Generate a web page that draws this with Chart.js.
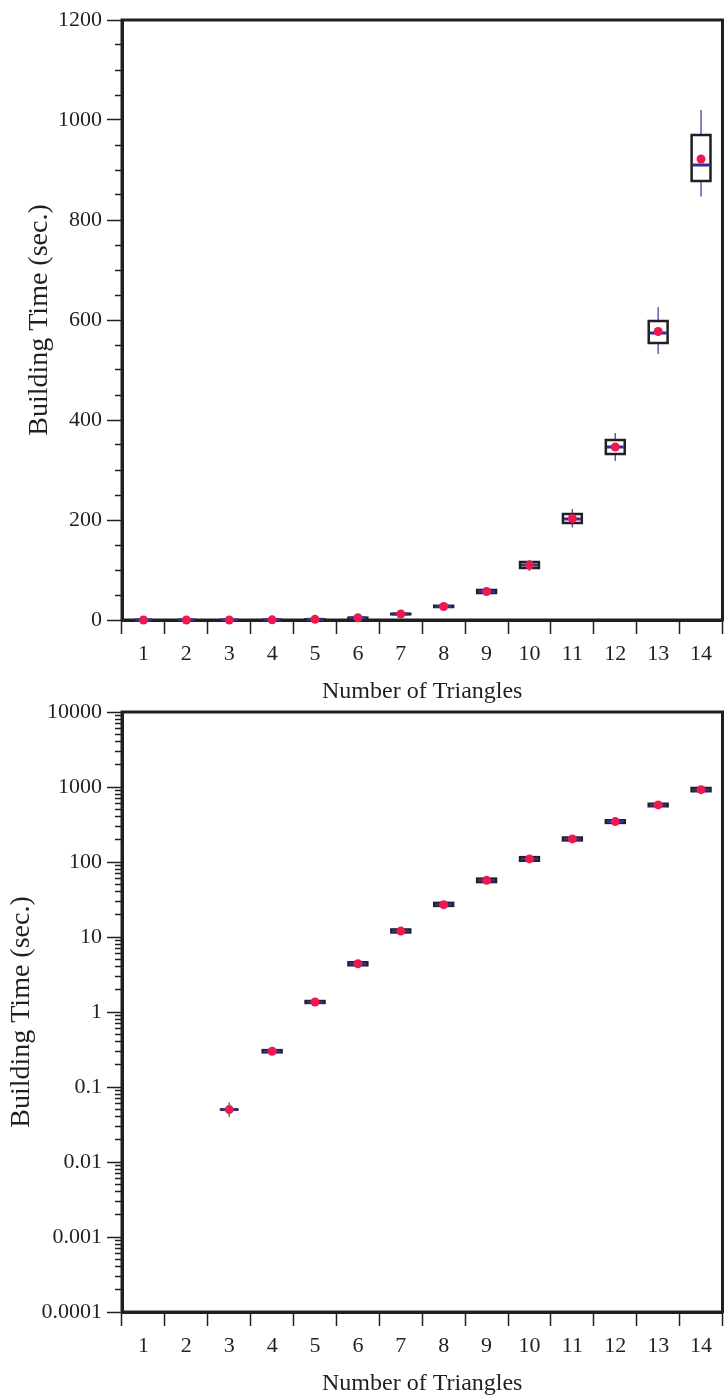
<!DOCTYPE html>
<html>
<head>
<meta charset="utf-8">
<script src="https://cdn.jsdelivr.net/npm/chart.js@4/dist/chart.umd.min.js"></script>
<style>
  body { margin: 0; background: #fff; }
  .panel { position: relative; width: 727px; }
</style>
</head>
<body>
<div class="panel" style="height:703px"><canvas id="linear-canvas"></canvas></div>
<div class="panel" style="height:692px"><canvas id="log-canvas"></canvas></div>
<script>
const categories = ['1', '2', '3', '4', '5', '6', '7', '8', '9', '10', '11', '12', '13', '14'];

// building time in seconds, one entry per triangle count
const meanTime      = [0, 0, 0.05, 0.30, 1.36, 4.4, 12, 27, 57, 110, 203, 346, 577, 922];
const medianTime    = [0, 0, 0.05, 0.30, 1.35, 4.4, 12, 27, 57, 110, 202, 346, 574, 910];
const lowerQuartile = [0, 0, 0.05, 0.29, 1.32, 4.2, 11.5, 26, 54, 104, 194, 332, 554, 878];
const upperQuartile = [0, 0, 0.05, 0.31, 1.40, 4.6, 12.6, 28.5, 60, 116, 212, 360, 598, 970];
const whiskerLow    = [0, 0, 0.04, 0.28, 1.28, 4.0, 11, 25, 52, 98, 185, 318, 532, 847];
const whiskerHigh   = [0, 0, 0.062, 0.32, 1.45, 4.8, 13, 29.5, 62, 120, 222, 374, 626, 1020];

const linearMajorTicks = [0, 200, 400, 600, 800, 1000, 1200];
const linearMinorStep = 50;
const logMajorTicks = [0.0001, 0.001, 0.01, 0.1, 1, 10, 100, 1000, 10000];

const INK = '#231f20';
const BLUE = '#2e3192';
const WHISKER = '#5a5eab';
const RED = '#ee1a4f';
const FONT = 'Liberation Serif';

const boxFraction = 0.44;

// whiskers, boxes and medians drawn under the mean dots
const boxPlotPlugin = {
  id: 'boxPlot',
  beforeDatasetsDraw(chart) {
    const { ctx, chartArea, scales: { x, y } } = chart;
    const isLog = y.type === 'logarithmic';
    const half = (chartArea.right - chartArea.left) / categories.length * boxFraction / 2;
    ctx.save();
    ctx.strokeStyle = INK;
    ctx.lineWidth = 3;
    ctx.strokeRect(chartArea.left, chartArea.top, chartArea.right - chartArea.left, chartArea.bottom - chartArea.top);

    categories.forEach((c, i) => {
      if (isLog && medianTime[i] <= 0) return;
      const cx = x.getPixelForValue(i);
      const yMin = y.getPixelForValue(whiskerLow[i]);
      const yMax = y.getPixelForValue(whiskerHigh[i]);
      const yQ1 = y.getPixelForValue(lowerQuartile[i]);
      const yQ3 = y.getPixelForValue(upperQuartile[i]);
      const yMed = y.getPixelForValue(medianTime[i]);

      ctx.strokeStyle = WHISKER;
      ctx.lineWidth = 1.5;
      ctx.beginPath();
      ctx.moveTo(cx, yMin);
      ctx.lineTo(cx, yMax);
      ctx.stroke();

      ctx.fillStyle = '#fff';
      ctx.fillRect(cx - half, yQ3, half * 2, yQ1 - yQ3);
      ctx.strokeStyle = INK;
      ctx.lineWidth = 2.5;
      ctx.strokeRect(cx - half, yQ3, half * 2, yQ1 - yQ3);

      ctx.strokeStyle = BLUE;
      ctx.lineWidth = 3;
      ctx.beginPath();
      ctx.moveTo(cx - half + 1, yMed);
      ctx.lineTo(cx + half - 1, yMed);
      ctx.stroke();
    });
    ctx.restore();
  }
};

function makeChart(canvasId, yScale, opts) {
  return new Chart(document.getElementById(canvasId), {
    type: 'line',
    data: {
      labels: categories,
      datasets: [{
        label: 'Mean',
        data: opts.means,
        showLine: false,
        pointRadius: 4.5,
        pointHoverRadius: 4.5,
        pointBackgroundColor: RED,
        pointBorderWidth: 0,
        clip: false
      }]
    },
    options: {
      responsive: true,
      maintainAspectRatio: false,
      devicePixelRatio: 1,
      animation: false,
      layout: { padding: { top: opts.top, right: 4, left: 0, bottom: 0 } },
      plugins: { legend: { display: false }, tooltip: { enabled: false } },
      scales: {
        x: {
          type: 'category',
          offset: true,
          afterFit: (scale) => {
            scale.height = 83;
            scale.paddingLeft = 0;
            scale.paddingRight = 0;
          },
          grid: {
            offset: true,
            drawOnChartArea: false,
            tickLength: 14,
            tickColor: INK,
            tickWidth: 1.5
          },
          border: { color: INK, width: 3 },
          ticks: {
            color: INK,
            maxRotation: 0,
            autoSkip: false,
            padding: 7,
            font: { family: FONT, size: 22 }
          },
          title: {
            display: true,
            text: 'Number of Triangles',
            color: INK,
            font: { family: FONT, size: 24, lineHeight: 0.9 },
            padding: { top: 0, bottom: 0 }
          }
        },
        y: Object.assign({
          afterFit: (scale) => {
            scale.width = 122;
            // end labels may overhang the plot edges
            scale.paddingTop = 0;
            scale.paddingBottom = 0;
          },
          grid: {
            drawOnChartArea: false,
            tickLength: 15,
            tickColor: INK,
            tickWidth: 1.5,
            // minor ticks only show their inner half
            tickBorderDash: (ctx) => (ctx.tick && ctx.tick.major) ? [] : [0, 8, 7, 100]
          },
          border: { color: INK, width: 3 },
          title: {
            display: true,
            text: 'Building Time (sec.)',
            color: INK,
            font: { family: FONT, size: 28, lineHeight: 1.2 },
            padding: { top: opts.yTitlePad, bottom: 0 }
          }
        }, yScale)
      }
    },
    plugins: [boxPlotPlugin]
  });
}

const tickFont = { family: FONT, size: 22 };

makeChart('linear-canvas', {
  type: 'linear',
  min: 0,
  max: 1200,
  afterBuildTicks: (scale) => {
    const ticks = [];
    for (let v = 0; v <= 1200; v += linearMinorStep) {
      ticks.push({ value: v, major: linearMajorTicks.includes(v) });
    }
    scale.ticks = ticks;
  },
  ticks: {
    color: INK,
    autoSkip: false,
    padding: 5,
    font: tickFont,
    callback: (value, index, ticks) => ticks[index].major ? String(value) : ''
  }
}, { means: meanTime, top: 20, yTitlePad: 23 });

makeChart('log-canvas', {
  type: 'logarithmic',
  min: 0.0001,
  max: 10000,
  afterBuildTicks: (scale) => {
    const ticks = [];
    logMajorTicks.forEach((base, k) => {
      ticks.push({ value: base, major: true });
      if (k === logMajorTicks.length - 1) return;
      for (let m = 2; m <= 9; m++) ticks.push({ value: base * m, major: false });
    });
    scale.ticks = ticks;
  },
  ticks: {
    color: INK,
    autoSkip: false,
    padding: 5,
    font: tickFont,
    callback: (value, index, ticks) => ticks[index].major ? String(value) : ''
  }
}, { means: meanTime.map(v => v > 0 ? v : null), top: 9, yTitlePad: 5 });
</script>
</body>
</html>
